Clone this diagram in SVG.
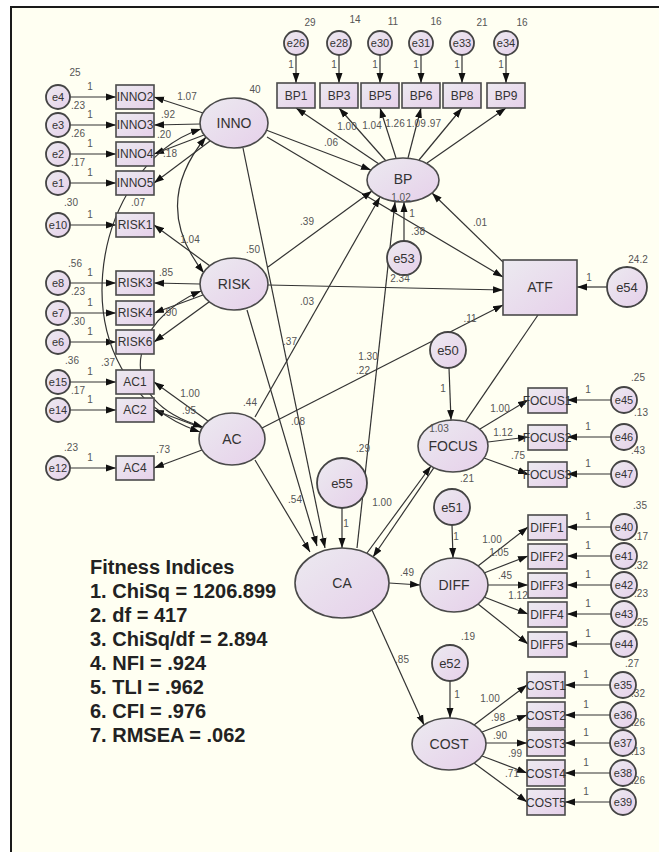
<svg xmlns="http://www.w3.org/2000/svg" width="659" height="852" viewBox="0 0 659 852">
<defs>
<linearGradient id="lg" x1="0" y1="0" x2="1" y2="1">
<stop offset="0" stop-color="#ECEAF0"/>
<stop offset="1" stop-color="#E6D0EA"/>
</linearGradient>
<marker id="a" markerWidth="10" markerHeight="8" refX="10" refY="4" orient="auto" markerUnits="userSpaceOnUse"><path d="M0,0.5 L10,4 L0,7.5 z" fill="#111"/></marker>
<marker id="b" markerWidth="10" markerHeight="8" refX="10" refY="4" orient="auto-start-reverse" markerUnits="userSpaceOnUse"><path d="M0,0.5 L10,4 L0,7.5 z" fill="#111"/></marker>
<style>
.lat{fill:url(#lg);stroke:#4a4a4a;stroke-width:1.6}
.obs{fill:url(#lg);stroke:#4a4a4a;stroke-width:1.6}
.err{fill:url(#lg);stroke:#444;stroke-width:1.8}
.c line,.c path{stroke:#333;stroke-width:1.2;fill:none}
.c line{marker-end:url(#a)}
.cov{marker-start:url(#b);marker-end:url(#b)}
text{font-family:"Liberation Sans",Arial,sans-serif;fill:#333;text-anchor:middle}
.ln{font-size:14px}
.on{font-size:12px}
.en{font-size:11px}
.eb{font-size:13px}
.lb text{font-size:10px;fill:#555}
.fit{font-size:20px;font-weight:bold;fill:#222;text-anchor:start}
</style>
</defs>
<rect x="0" y="0" width="659" height="852" fill="#FFFFFF"/>
<rect x="11" y="7" width="648" height="845" fill="#FFFFF2"/>
<path d="M11,852 L11,7 L659,7" fill="none" stroke="#1a1a1a" stroke-width="2"/>

<g id="connectors" class="c">
<line x1="70" y1="97" x2="116" y2="97"/>
<line x1="70" y1="125" x2="116" y2="125"/>
<line x1="70" y1="154" x2="116" y2="154"/>
<line x1="70" y1="183" x2="116" y2="183"/>
<line x1="70" y1="225" x2="116" y2="225"/>
<line x1="70" y1="283" x2="116" y2="283"/>
<line x1="70" y1="313" x2="116" y2="313"/>
<line x1="70" y1="342" x2="116" y2="342"/>
<line x1="70" y1="382" x2="116" y2="382"/>
<line x1="70" y1="410" x2="116" y2="410"/>
<line x1="70" y1="468" x2="116" y2="468"/>
<line x1="203" y1="113" x2="154" y2="97"/>
<line x1="200" y1="124" x2="154" y2="125"/>
<line x1="204" y1="135" x2="154" y2="154"/>
<line x1="210" y1="141" x2="154" y2="183"/>
<line x1="210" y1="266" x2="154" y2="225"/>
<line x1="200" y1="284" x2="154" y2="283"/>
<line x1="203" y1="295" x2="154" y2="313"/>
<line x1="209" y1="302" x2="154" y2="342"/>
<line x1="208" y1="421" x2="154" y2="382"/>
<line x1="202" y1="428" x2="154" y2="410"/>
<line x1="202" y1="450" x2="154" y2="468"/>
<path class="cov" d="M206,137 Q150,205 204,273"/>
<path class="cov" d="M201,129 C90,165 50,380 200,432"/>
<path class="cov" d="M201,291 C130,320 110,400 203,427"/>
<line x1="296" y1="55" x2="296" y2="83"/>
<line x1="339" y1="55" x2="339" y2="83"/>
<line x1="380" y1="55" x2="380" y2="83"/>
<line x1="421" y1="55" x2="421" y2="83"/>
<line x1="462" y1="55" x2="462" y2="83"/>
<line x1="506" y1="55" x2="506" y2="83"/>
<line x1="379" y1="164" x2="296" y2="108"/>
<line x1="386" y1="161" x2="339" y2="108"/>
<line x1="396" y1="158" x2="380" y2="108"/>
<line x1="408" y1="158" x2="421" y2="108"/>
<line x1="419" y1="160" x2="462" y2="108"/>
<line x1="427" y1="163" x2="506" y2="108"/>
<line x1="266" y1="130" x2="371" y2="170"/>
<line x1="267" y1="137" x2="503" y2="277"/>
<line x1="243" y1="148" x2="325" y2="548"/>
<line x1="268" y1="267" x2="372" y2="191"/>
<line x1="268" y1="285" x2="503" y2="290"/>
<line x1="247" y1="310" x2="317" y2="546"/>
<line x1="255" y1="417" x2="380" y2="197"/>
<line x1="262" y1="428" x2="503" y2="305"/>
<line x1="255" y1="460" x2="310" y2="552"/>
<line x1="357" y1="548" x2="395" y2="202"/>
<line x1="404" y1="241" x2="404" y2="202"/>
<line x1="503" y1="262" x2="432" y2="193"/>
<line x1="538" y1="315" x2="373" y2="557"/>
<line x1="367" y1="553" x2="431" y2="466"/>
<line x1="342" y1="508" x2="342" y2="548"/>
<line x1="449" y1="368" x2="451" y2="420"/>
<line x1="389" y1="583" x2="420" y2="585"/>
<line x1="372" y1="610" x2="424" y2="725"/>
<line x1="452" y1="525" x2="453" y2="558"/>
<line x1="450" y1="681" x2="450" y2="718"/>
<line x1="607" y1="287" x2="577" y2="287"/>
<line x1="480" y1="429" x2="528" y2="400"/>
<line x1="488" y1="442" x2="528" y2="437"/>
<line x1="484" y1="458" x2="528" y2="474"/>
<line x1="611" y1="400" x2="567" y2="400"/>
<line x1="611" y1="437" x2="567" y2="437"/>
<line x1="611" y1="474" x2="567" y2="474"/>
<line x1="478" y1="566" x2="528" y2="527"/>
<line x1="484" y1="573" x2="528" y2="556"/>
<line x1="488" y1="585" x2="528" y2="585"/>
<line x1="484" y1="597" x2="528" y2="614"/>
<line x1="478" y1="604" x2="528" y2="644"/>
<line x1="611" y1="527" x2="567" y2="527"/>
<line x1="611" y1="556" x2="567" y2="556"/>
<line x1="611" y1="585" x2="567" y2="585"/>
<line x1="611" y1="614" x2="567" y2="614"/>
<line x1="611" y1="644" x2="567" y2="644"/>
<line x1="474" y1="725" x2="527" y2="685"/>
<line x1="482" y1="732" x2="527" y2="715"/>
<line x1="486" y1="743" x2="527" y2="743"/>
<line x1="482" y1="756" x2="527" y2="773"/>
<line x1="474" y1="763" x2="527" y2="802"/>
<line x1="610" y1="685" x2="565" y2="685"/>
<line x1="610" y1="715" x2="565" y2="715"/>
<line x1="610" y1="743" x2="565" y2="743"/>
<line x1="610" y1="773" x2="565" y2="773"/>
<line x1="610" y1="802" x2="565" y2="802"/>
</g>

<g id="e4"><circle class="err" cx="58" cy="97" r="12"/><text class="en" x="58" y="101">e4</text></g>
<g id="e3"><circle class="err" cx="58" cy="125" r="12"/><text class="en" x="58" y="129">e3</text></g>
<g id="e2"><circle class="err" cx="58" cy="154" r="12"/><text class="en" x="58" y="158">e2</text></g>
<g id="e1"><circle class="err" cx="58" cy="183" r="12"/><text class="en" x="58" y="187">e1</text></g>
<g id="e10"><circle class="err" cx="58" cy="225" r="12"/><text class="en" x="58" y="229">e10</text></g>
<g id="e8"><circle class="err" cx="58" cy="283" r="12"/><text class="en" x="58" y="287">e8</text></g>
<g id="e7"><circle class="err" cx="58" cy="313" r="12"/><text class="en" x="58" y="317">e7</text></g>
<g id="e6"><circle class="err" cx="58" cy="342" r="12"/><text class="en" x="58" y="346">e6</text></g>
<g id="e15"><circle class="err" cx="58" cy="382" r="12"/><text class="en" x="58" y="386">e15</text></g>
<g id="e14"><circle class="err" cx="58" cy="410" r="12"/><text class="en" x="58" y="414">e14</text></g>
<g id="e12"><circle class="err" cx="58" cy="468" r="12"/><text class="en" x="58" y="472">e12</text></g>

<g id="INNO2"><rect class="obs" x="116" y="85" width="38" height="24"/><text class="on" x="135" y="101">INNO2</text></g>
<g id="INNO3"><rect class="obs" x="116" y="113" width="38" height="24"/><text class="on" x="135" y="129">INNO3</text></g>
<g id="INNO4"><rect class="obs" x="116" y="142" width="38" height="24"/><text class="on" x="135" y="158">INNO4</text></g>
<g id="INNO5"><rect class="obs" x="116" y="171" width="38" height="24"/><text class="on" x="135" y="187">INNO5</text></g>
<g id="RISK1"><rect class="obs" x="116" y="213" width="38" height="24"/><text class="on" x="135" y="229">RISK1</text></g>
<g id="RISK3"><rect class="obs" x="116" y="271" width="38" height="24"/><text class="on" x="135" y="287">RISK3</text></g>
<g id="RISK4"><rect class="obs" x="116" y="301" width="38" height="24"/><text class="on" x="135" y="317">RISK4</text></g>
<g id="RISK6"><rect class="obs" x="116" y="330" width="38" height="24"/><text class="on" x="135" y="346">RISK6</text></g>
<g id="AC1"><rect class="obs" x="116" y="370" width="38" height="24"/><text class="on" x="135" y="386">AC1</text></g>
<g id="AC2"><rect class="obs" x="116" y="398" width="38" height="24"/><text class="on" x="135" y="414">AC2</text></g>
<g id="AC4"><rect class="obs" x="116" y="456" width="38" height="24"/><text class="on" x="135" y="472">AC4</text></g>

<g id="e26"><circle class="err" cx="296" cy="43" r="12"/><text class="en" x="296" y="47">e26</text></g>
<g id="e28"><circle class="err" cx="339" cy="43" r="12"/><text class="en" x="339" y="47">e28</text></g>
<g id="e30"><circle class="err" cx="380" cy="43" r="12"/><text class="en" x="380" y="47">e30</text></g>
<g id="e31"><circle class="err" cx="421" cy="43" r="12"/><text class="en" x="421" y="47">e31</text></g>
<g id="e33"><circle class="err" cx="462" cy="43" r="12"/><text class="en" x="462" y="47">e33</text></g>
<g id="e34"><circle class="err" cx="506" cy="43" r="12"/><text class="en" x="506" y="47">e34</text></g>
<g id="BP1"><rect class="obs" x="277" y="83" width="38" height="25"/><text class="on" x="296" y="100">BP1</text></g>
<g id="BP3"><rect class="obs" x="320" y="83" width="38" height="25"/><text class="on" x="339" y="100">BP3</text></g>
<g id="BP5"><rect class="obs" x="361" y="83" width="38" height="25"/><text class="on" x="380" y="100">BP5</text></g>
<g id="BP6"><rect class="obs" x="402" y="83" width="38" height="25"/><text class="on" x="421" y="100">BP6</text></g>
<g id="BP8"><rect class="obs" x="443" y="83" width="38" height="25"/><text class="on" x="462" y="100">BP8</text></g>
<g id="BP9"><rect class="obs" x="487" y="83" width="38" height="25"/><text class="on" x="506" y="100">BP9</text></g>

<g id="INNO"><ellipse class="lat" cx="234" cy="123" rx="34" ry="25"/><text class="ln" x="234" y="128">INNO</text></g>
<g id="RISK"><ellipse class="lat" cx="234" cy="284" rx="34" ry="26"/><text class="ln" x="234" y="289">RISK</text></g>
<g id="AC"><ellipse class="lat" cx="232" cy="439" rx="33" ry="26"/><text class="ln" x="232" y="444">AC</text></g>
<g id="BP"><ellipse class="lat" cx="403" cy="180" rx="36" ry="22"/><text class="ln" x="403" y="184">BP</text></g>
<g id="CA"><ellipse class="lat" cx="342" cy="583" rx="47" ry="35"/><text class="ln" x="342" y="588">CA</text></g>
<g id="FOCUS"><ellipse class="lat" cx="453" cy="446" rx="35" ry="26"/><text class="ln" x="453" y="451">FOCUS</text></g>
<g id="DIFF"><ellipse class="lat" cx="454" cy="585" rx="34" ry="27"/><text class="ln" x="454" y="590">DIFF</text></g>
<g id="COST"><ellipse class="lat" cx="449" cy="744" rx="37" ry="26"/><text class="ln" x="449" y="749">COST</text></g>
<g id="ATF"><rect class="obs" x="503" y="260" width="74" height="55"/><text class="ln" x="540" y="292">ATF</text></g>

<g id="e53"><circle class="err" cx="404" cy="258" r="17"/><text class="eb" x="404" y="263">e53</text></g>
<g id="e54"><circle class="err" cx="627" cy="287" r="20"/><text class="eb" x="627" y="292">e54</text></g>
<g id="e50"><circle class="err" cx="448" cy="350" r="18"/><text class="eb" x="448" y="355">e50</text></g>
<g id="e55"><circle class="err" cx="342" cy="483" r="25"/><text class="eb" x="342" y="488">e55</text></g>
<g id="e51"><circle class="err" cx="452" cy="507" r="18"/><text class="eb" x="452" y="512">e51</text></g>
<g id="e52"><circle class="err" cx="450" cy="663" r="18"/><text class="eb" x="450" y="668">e52</text></g>

<g id="FOCUS1"><rect class="obs" x="528" y="388" width="39" height="25"/><text class="on" x="547" y="405">FOCUS1</text></g>
<g id="FOCUS2"><rect class="obs" x="528" y="425" width="39" height="25"/><text class="on" x="547" y="442">FOCUS2</text></g>
<g id="FOCUS3"><rect class="obs" x="528" y="462" width="39" height="25"/><text class="on" x="547" y="479">FOCUS3</text></g>
<g id="e45"><circle class="err" cx="624" cy="400" r="13"/><text class="en" x="624" y="404">e45</text></g>
<g id="e46"><circle class="err" cx="624" cy="437" r="13"/><text class="en" x="624" y="441">e46</text></g>
<g id="e47"><circle class="err" cx="624" cy="474" r="13"/><text class="en" x="624" y="478">e47</text></g>

<g id="DIFF1"><rect class="obs" x="528" y="515" width="39" height="25"/><text class="on" x="547" y="532">DIFF1</text></g>
<g id="DIFF2"><rect class="obs" x="528" y="544" width="39" height="25"/><text class="on" x="547" y="561">DIFF2</text></g>
<g id="DIFF3"><rect class="obs" x="528" y="573" width="39" height="25"/><text class="on" x="547" y="590">DIFF3</text></g>
<g id="DIFF4"><rect class="obs" x="528" y="602" width="39" height="25"/><text class="on" x="547" y="619">DIFF4</text></g>
<g id="DIFF5"><rect class="obs" x="528" y="632" width="39" height="25"/><text class="on" x="547" y="649">DIFF5</text></g>
<g id="e40"><circle class="err" cx="624" cy="527" r="13"/><text class="en" x="624" y="531">e40</text></g>
<g id="e41"><circle class="err" cx="624" cy="556" r="13"/><text class="en" x="624" y="560">e41</text></g>
<g id="e42"><circle class="err" cx="624" cy="585" r="13"/><text class="en" x="624" y="589">e42</text></g>
<g id="e43"><circle class="err" cx="624" cy="614" r="13"/><text class="en" x="624" y="618">e43</text></g>
<g id="e44"><circle class="err" cx="624" cy="644" r="13"/><text class="en" x="624" y="648">e44</text></g>

<g id="COST1"><rect class="obs" x="527" y="672" width="38" height="26"/><text class="on" x="546" y="690">COST1</text></g>
<g id="COST2"><rect class="obs" x="527" y="702" width="38" height="26"/><text class="on" x="546" y="720">COST2</text></g>
<g id="COST3"><rect class="obs" x="527" y="730" width="38" height="26"/><text class="on" x="546" y="748">COST3</text></g>
<g id="COST4"><rect class="obs" x="527" y="760" width="38" height="26"/><text class="on" x="546" y="778">COST4</text></g>
<g id="COST5"><rect class="obs" x="527" y="789" width="38" height="26"/><text class="on" x="546" y="807">COST5</text></g>
<g id="e35"><circle class="err" cx="623" cy="685" r="13"/><text class="en" x="623" y="689">e35</text></g>
<g id="e36"><circle class="err" cx="623" cy="715" r="13"/><text class="en" x="623" y="719">e36</text></g>
<g id="e37"><circle class="err" cx="623" cy="743" r="13"/><text class="en" x="623" y="747">e37</text></g>
<g id="e38"><circle class="err" cx="623" cy="773" r="13"/><text class="en" x="623" y="777">e38</text></g>
<g id="e39"><circle class="err" cx="623" cy="802" r="13"/><text class="en" x="623" y="806">e39</text></g>

<g id="labels" class="lb">
<text x="75" y="76">25</text>
<text x="78" y="109">.23</text>
<text x="78" y="137">.26</text>
<text x="78" y="166">.17</text>
<text x="71" y="206">.30</text>
<text x="138" y="206">.07</text>
<text x="75" y="267">.56</text>
<text x="78" y="295">.23</text>
<text x="78" y="325">.30</text>
<text x="72" y="364">.36</text>
<text x="108" y="366">.37</text>
<text x="78" y="394">.17</text>
<text x="71" y="451">.23</text>
<text x="90" y="90">1</text>
<text x="90" y="118">1</text>
<text x="90" y="147">1</text>
<text x="90" y="176">1</text>
<text x="90" y="218">1</text>
<text x="90" y="276">1</text>
<text x="90" y="306">1</text>
<text x="90" y="335">1</text>
<text x="90" y="375">1</text>
<text x="90" y="403">1</text>
<text x="90" y="461">1</text>
<text x="187" y="100">1.07</text>
<text x="168" y="118">.92</text>
<text x="164" y="138">.20</text>
<text x="170" y="157">.18</text>
<text x="190" y="243">1.04</text>
<text x="166" y="276">.85</text>
<text x="170" y="316">.90</text>
<text x="190" y="397">1.00</text>
<text x="189" y="414">.95</text>
<text x="163" y="453">.73</text>
<text x="255" y="93">40</text>
<text x="310" y="26">29</text>
<text x="355" y="23">14</text>
<text x="393" y="25">11</text>
<text x="436" y="25">16</text>
<text x="482" y="26">21</text>
<text x="522" y="26">16</text>
<text x="291" y="68">1</text>
<text x="334" y="68">1</text>
<text x="375" y="68">1</text>
<text x="416" y="68">1</text>
<text x="457" y="68">1</text>
<text x="501" y="68">1</text>
<text x="347" y="130">1.00</text>
<text x="372" y="129">1.04</text>
<text x="395" y="127">1.26</text>
<text x="416" y="127">1.09</text>
<text x="434" y="127">.97</text>
<text x="331" y="146">.06</text>
<text x="401" y="201">1.02</text>
<text x="412" y="217">1</text>
<text x="400" y="282">2.34</text>
<text x="253" y="253">.50</text>
<text x="307" y="225">.39</text>
<text x="307" y="305">.03</text>
<text x="290" y="345">.37</text>
<text x="418" y="235">.38</text>
<text x="480" y="226">.01</text>
<text x="368" y="360">1.30</text>
<text x="363" y="374">.22</text>
<text x="470" y="322">.11</text>
<text x="638" y="263">24.2</text>
<text x="589" y="281">1</text>
<text x="250" y="406">.44</text>
<text x="298" y="425">.08</text>
<text x="295" y="503">.54</text>
<text x="363" y="452">.29</text>
<text x="346" y="527">1</text>
<text x="382" y="506">1.00</text>
<text x="407" y="576">.49</text>
<text x="402" y="663">.85</text>
<text x="443" y="392">1</text>
<text x="439" y="432">1.03</text>
<text x="467" y="482">.21</text>
<text x="500" y="412">1.00</text>
<text x="503" y="436">1.12</text>
<text x="518" y="459">.75</text>
<text x="638" y="381">.25</text>
<text x="641" y="416">.13</text>
<text x="638" y="454">.43</text>
<text x="588" y="393">1</text>
<text x="588" y="430">1</text>
<text x="588" y="467">1</text>
<text x="456" y="540">1</text>
<text x="492" y="543">1.00</text>
<text x="499" y="556">1.05</text>
<text x="505" y="579">.45</text>
<text x="518" y="599">1.12</text>
<text x="640" y="509">.35</text>
<text x="641" y="540">.17</text>
<text x="641" y="569">.32</text>
<text x="641" y="597">.23</text>
<text x="641" y="626">.25</text>
<text x="588" y="520">1</text>
<text x="588" y="549">1</text>
<text x="588" y="578">1</text>
<text x="588" y="607">1</text>
<text x="588" y="637">1</text>
<text x="468" y="640">.19</text>
<text x="457" y="698">1</text>
<text x="490" y="702">1.00</text>
<text x="498" y="721">.98</text>
<text x="500" y="739">.90</text>
<text x="515" y="757">.99</text>
<text x="512" y="777">.71</text>
<text x="632" y="667">.27</text>
<text x="638" y="697">.32</text>
<text x="638" y="726">.26</text>
<text x="638" y="755">.13</text>
<text x="638" y="784">.26</text>
<text x="586" y="678">1</text>
<text x="586" y="708">1</text>
<text x="586" y="736">1</text>
<text x="586" y="766">1</text>
<text x="586" y="795">1</text>
</g>

<g id="fitness">
<text class="fit" x="90" y="574">Fitness Indices</text>
<text class="fit" x="90" y="598">1. ChiSq = 1206.899</text>
<text class="fit" x="90" y="622">2. df = 417</text>
<text class="fit" x="90" y="646">3. ChiSq/df = 2.894</text>
<text class="fit" x="90" y="670">4. NFI = .924</text>
<text class="fit" x="90" y="694">5. TLI = .962</text>
<text class="fit" x="90" y="718">6. CFI = .976</text>
<text class="fit" x="90" y="742">7. RMSEA = .062</text>
</g>
</svg>
